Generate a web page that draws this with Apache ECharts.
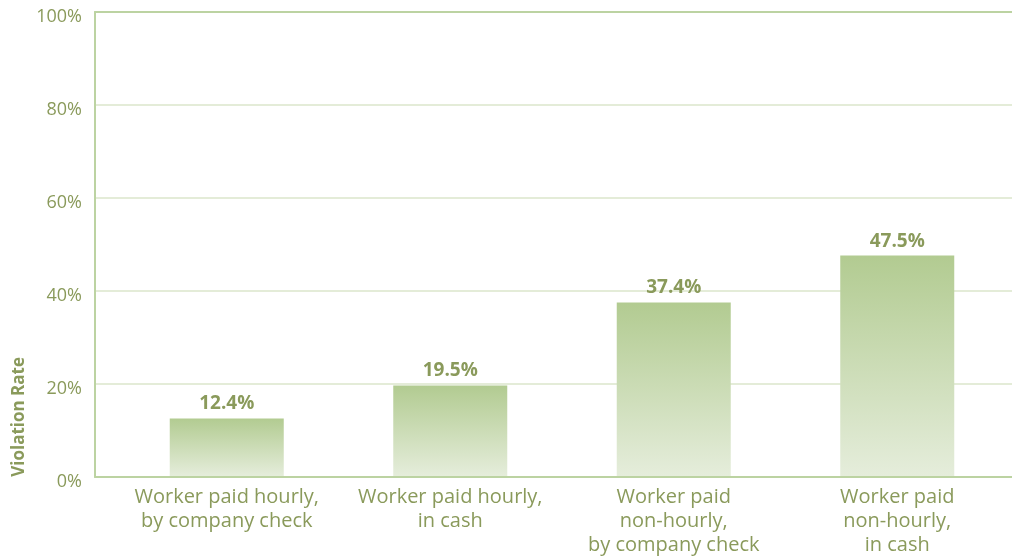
<!DOCTYPE html>
<html>
<head>
<meta charset="utf-8">
<script src="https://cdn.jsdelivr.net/npm/echarts@6/dist/echarts.min.js"></script>
<style>
  html, body { margin: 0; padding: 0; background: #fff; }
  #chart { width: 1012px; height: 557px; }
</style>
</head>
<body>
<div id="chart"></div>
<script>
const categories = [
  'Worker paid hourly,\nby company check',
  'Worker paid hourly,\nin cash',
  'Worker paid\nnon-hourly,\nby company check',
  'Worker paid\nnon-hourly,\nin cash'
];
const violationRates = [12.4, 19.5, 37.4, 47.5];
const yTicks = [0, 20, 40, 60, 80, 100];

const textColor = '#8a9a5b';
const axisColor = '#bcd3a2';
const gridColor = '#e4ecd8';
const font = '"Open Sans", "Noto Sans", sans-serif';

const myChart = echarts.init(document.getElementById('chart'));

const option = {
  animation: false,
  backgroundColor: '#fff',
  grid: [
    // frame grid: axis lines, split lines, tick labels
    { left: 95, right: 0, top: 12, bottom: 80 },
    // bar grid
    { left: 115, right: 3, top: 12, bottom: 80 }
  ],
  xAxis: [
    {
      gridIndex: 0, type: 'category', data: categories,
      axisLine: { lineStyle: { color: axisColor, width: 2 } },
      axisTick: { show: false }, axisLabel: { show: false }
    },
    {
      gridIndex: 0, type: 'category', data: categories, position: 'top',
      axisLine: { lineStyle: { color: axisColor, width: 2 } },
      axisTick: { show: false }, axisLabel: { show: false }
    },
    {
      gridIndex: 1, type: 'category', data: categories,
      axisLine: { show: false }, axisTick: { show: false },
      axisLabel: {
        color: textColor, fontSize: 20, fontFamily: font,
        lineHeight: 24, margin: 9, interval: 0
      }
    }
  ],
  yAxis: [
    {
      gridIndex: 0, type: 'value', min: 0, max: 100, interval: 20,
      axisLine: { show: true, lineStyle: { color: axisColor, width: 2 } },
      axisTick: { show: false },
      splitLine: { lineStyle: { color: gridColor, width: 2 } },
      axisLabel: {
        color: textColor, fontSize: 18, fontFamily: font, margin: 13,
        verticalAlign: 'top', lineHeight: 10,
        formatter: v => yTicks.includes(v) ? v + '%' : ''
      }
    },
    {
      gridIndex: 1, type: 'value', min: 0, max: 100,
      axisLine: { show: false }, axisTick: { show: false },
      axisLabel: { show: false }, splitLine: { show: false }
    }
  ],
  graphic: [
    {
      type: 'text', left: 11, top: 357, rotation: Math.PI / 2,
      style: {
        text: 'Violation Rate', fill: textColor,
        font: 'bold 17px ' + font
      }
    }
  ],
  series: [
    {
      type: 'bar', xAxisIndex: 2, yAxisIndex: 1,
      data: violationRates, barWidth: 114,
      itemStyle: {
        color: new echarts.graphic.LinearGradient(0, 0, 0, 1, [
          { offset: 0, color: '#b2cb91' },
          { offset: 1, color: '#e5eddb' }
        ])
      },
      label: {
        show: true, position: 'top', distance: 5,
        color: textColor, fontSize: 19, fontWeight: 'bold', fontFamily: font,
        formatter: p => p.value.toFixed(1) + '%'
      }
    }
  ]
};

myChart.setOption(option);
</script>
</body>
</html>
